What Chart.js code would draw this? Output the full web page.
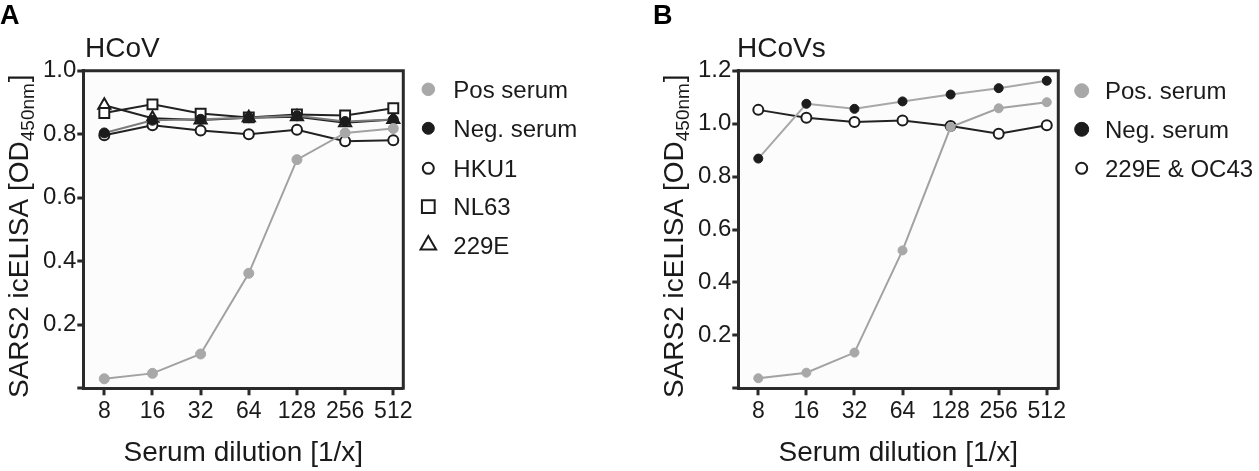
<!DOCTYPE html>
<html><head><meta charset="utf-8">
<script src="https://cdn.jsdelivr.net/npm/chart.js@4.4.1/dist/chart.umd.min.js"></script>
<style>
html,body{margin:0;padding:0;background:#fff;width:1259px;height:471px;overflow:hidden}
#a{position:absolute;left:0;top:0}
#b{position:absolute;left:620px;top:0}
</style></head><body>
<canvas id="a" width="620" height="471"></canvas>
<canvas id="b" width="639" height="471"></canvas>
<script>
// ---------- data ----------
const dilutions = [8, 16, 32, 64, 128, 256, 512];
const xTickLabels = ['8', '16', '32', '64', '128', '256', '512'];
const yTicksA = [0, 0.2, 0.4, 0.6, 0.8, 1.0];
const yTicksB = [0, 0.2, 0.4, 0.6, 0.8, 1.0, 1.2];

const titleA = 'HCoV';
const namesA = ['Pos serum', 'Neg. serum', 'HKU1', 'NL63', '229E'];
const posA  = [0.030, 0.047, 0.108, 0.362, 0.720, 0.804, 0.818];
const negA  = [0.804, 0.844, 0.847, 0.852, 0.858, 0.840, 0.846];
const hku1A = [0.797, 0.828, 0.812, 0.800, 0.814, 0.778, 0.781];
const nl63A = [0.867, 0.894, 0.865, 0.853, 0.862, 0.859, 0.882];
const e229A = [0.891, 0.850, 0.845, 0.852, 0.855, 0.836, 0.846];

const titleB = 'HCoVs';
const namesB = ['Pos. serum', 'Neg. serum', '229E & OC43'];
const posB  = [0.038, 0.059, 0.135, 0.521, 0.987, 1.058, 1.081];
const negB  = [0.868, 1.075, 1.056, 1.084, 1.110, 1.134, 1.162];
const hcovB = [1.052, 1.022, 1.006, 1.012, 0.991, 0.962, 0.994];

const yTitleMain = 'SARS2 icELISA [OD';
const yTitleSub = '450nm';
const yTitleEnd = ']';
const xTitle = 'Serum dilution [1/x]';

// ---------- styling ----------
const F = "'Liberation Sans', Arial, Helvetica, sans-serif";
const INK = '#1a1a1a';
const AXIS = '#2a2a2a';

function pts(values) { return dilutions.map((d, i) => ({ x: d, y: values[i] })); }

const decor = {
  id: 'decor',
  beforeDraw(chart, args, o) {
    const { ctx, chartArea: a } = chart;
    ctx.save();
    ctx.fillStyle = '#fcfcfc';
    ctx.fillRect(a.left, a.top, a.right - a.left, a.bottom - a.top);
    ctx.restore();
  },
  beforeDatasetsDraw(chart, args, o) {
    const { ctx, chartArea: a } = chart;
    ctx.save();
    ctx.strokeStyle = AXIS; ctx.lineWidth = 3; ctx.lineCap = 'square';
    ctx.beginPath();
    ctx.moveTo(a.left, a.top); ctx.lineTo(a.right, a.top); ctx.lineTo(a.right, a.bottom);
    ctx.stroke();
    ctx.restore();
  },
  afterDraw(chart, args, o) {
    const { ctx } = chart;
    ctx.save();
    ctx.textAlign = 'left'; ctx.textBaseline = 'alphabetic';
    ctx.fillStyle = '#000';
    ctx.font = `bold 27px ${F}`;
    ctx.fillText(o.panel, o.panelX, 24);
    ctx.fillStyle = INK;
    ctx.font = `28px ${F}`;
    ctx.fillText(o.title, o.titleX, o.titleY);
    // legend
    chart.data.datasets.forEach((ds, i) => {
      const y = o.legendY[i];
      ctx.save();
      ctx.fillStyle = ds.pointBackgroundColor;
      ctx.strokeStyle = ds.pointBorderColor;
      ctx.lineWidth = ds.pointBorderWidth;
      Chart.helpers.drawPoint(ctx, { pointStyle: ds.pointStyle || 'circle', radius: o.legendR[i], borderWidth: ds.pointBorderWidth, rotation: 0 }, o.legendMarkerX, y);
      ctx.restore();
      ctx.fillStyle = INK;
      ctx.font = `24px ${F}`;
      ctx.fillText(ds.label, o.legendTextX, y + 8.5);
    });
    // rotated y title with subscript
    ctx.translate(o.yTitleX, o.yTitleStart);
    ctx.rotate(-Math.PI / 2);
    let u = 0;
    ctx.font = `28px ${F}`; ctx.fillText(yTitleMain, u, 0); u += ctx.measureText(yTitleMain).width;
    ctx.font = `19px ${F}`; ctx.fillText(yTitleSub, u, 6); u += ctx.measureText(yTitleSub).width + 1;
    ctx.font = `28px ${F}`; ctx.fillText(yTitleEnd, u, 0);
    ctx.restore();
  }
};

function makeChart(id, datasets, yTicks, yMax, cfg) {
  return new Chart(document.getElementById(id), {
    type: 'line',
    data: { datasets },
    plugins: [decor],
    options: {
      responsive: false,
      animation: false,
      events: [],
      layout: { padding: { left: 0, top: 70.7, right: cfg.padRight, bottom: 0 } },
      plugins: { legend: { display: false }, tooltip: { enabled: false }, decor: cfg.decor },
      scales: {
        x: {
          type: 'logarithmic',
          min: dilutions[0] / Math.pow(2, cfg.xPadL),
          max: dilutions[dilutions.length - 1] * Math.pow(2, cfg.xPadR),
          afterBuildTicks: s => { s.ticks = dilutions.map(v => ({ value: v })); },
          afterFit: s => { s.height = 82.7; },
          ticks: {
            autoSkip: false, maxRotation: 0, padding: 3, color: INK,
            font: { family: F, size: 23 },
            callback: v => xTickLabels[dilutions.indexOf(v)]
          },
          grid: { display: true, drawOnChartArea: false, drawTicks: true, tickLength: 7, tickWidth: 3, tickColor: AXIS, lineWidth: 0 },
          border: { display: true, color: AXIS, width: 3 },
          title: { display: true, text: xTitle, color: INK, font: { family: F, size: 28 }, padding: { top: 0, bottom: 1 } }
        },
        y: {
          type: 'linear', min: 0, max: yMax,
          afterBuildTicks: s => { s.ticks = yTicks.map(v => ({ value: v })); },
          afterFit: s => { s.width = cfg.yWidth; },
          ticks: {
            padding: 1, color: INK, font: { family: F, size: 24 },
            callback: v => (v === 0 ? '' : v.toFixed(1))
          },
          grid: { display: true, drawOnChartArea: false, drawTicks: true, tickLength: 6, tickWidth: 3, tickColor: AXIS, lineWidth: 0 },
          border: { display: true, color: AXIS, width: 3 }
        }
      }
    }
  });
}

const lineBase = { showLine: true, tension: 0, borderWidth: 2, fill: false };

makeChart('a', [
  Object.assign({ label: namesA[0], data: pts(posA), borderColor: '#a2a2a2', pointBackgroundColor: '#a8a8a8', pointBorderColor: '#a8a8a8', pointBorderWidth: 1, pointRadius: 5, pointStyle: 'circle' }, lineBase),
  Object.assign({ label: namesA[1], data: pts(negA), borderColor: '#7c7c7c', pointBackgroundColor: '#1c1c1c', pointBorderColor: '#1c1c1c', pointBorderWidth: 1, pointRadius: 5, pointStyle: 'circle' }, lineBase),
  Object.assign({ label: namesA[2], data: pts(hku1A), borderColor: '#222', pointBackgroundColor: '#ffffff', pointBorderColor: '#1c1c1c', pointBorderWidth: 2, pointRadius: 5, pointStyle: 'circle' }, lineBase),
  Object.assign({ label: namesA[3], data: pts(nl63A), borderColor: '#222', pointBackgroundColor: '#ffffff', pointBorderColor: '#1c1c1c', pointBorderWidth: 2, pointRadius: 7, pointStyle: 'rect' }, lineBase),
  Object.assign({ label: namesA[4], data: pts(e229A), borderColor: '#222', pointBackgroundColor: '#ffffff', pointBorderColor: '#1c1c1c', pointBorderWidth: 2, pointRadius: 7, pointStyle: 'triangle' }, lineBase)
], yTicksA, 1.0, {
  padRight: 216.7, yWidth: 83.3, xPadL: 0.436, xPadR: 0.208,
  decor: { panel: 'A', panelX: 0, title: titleA, titleX: 85, titleY: 57, yTitleX: 28, yTitleStart: 398,
           legendMarkerX: 428.3, legendTextX: 453.3, legendY: [89.3, 128.3, 168.3, 206.7, 245], legendR: [6.3, 6, 5.5, 9, 9] }
});

makeChart('b', [
  Object.assign({ label: namesB[0], data: pts(posB), borderColor: '#a2a2a2', pointBackgroundColor: '#a8a8a8', pointBorderColor: '#a8a8a8', pointBorderWidth: 1, pointRadius: 4.5, pointStyle: 'circle' }, lineBase),
  Object.assign({ label: namesB[1], data: pts(negB), borderColor: '#a8a8a8', pointBackgroundColor: '#1c1c1c', pointBorderColor: '#1c1c1c', pointBorderWidth: 1, pointRadius: 4.5, pointStyle: 'circle' }, lineBase),
  Object.assign({ label: namesB[2], data: pts(hcovB), borderColor: '#222', pointBackgroundColor: '#ffffff', pointBorderColor: '#1c1c1c', pointBorderWidth: 2, pointRadius: 5, pointStyle: 'circle' }, lineBase)
], yTicksB, 1.2, {
  padRight: 200.7, yWidth: 118.3, xPadL: 0.416, xPadR: 0.24,
  decor: { panel: 'B', panelX: 33, title: titleB, titleX: 117, titleY: 57, yTitleX: 63.3, yTitleStart: 398,
           legendMarkerX: 461.7, legendTextX: 485, legendY: [90.7, 129.3, 168.3], legendR: [7, 7, 5.5] }
});
</script>
</body></html>
